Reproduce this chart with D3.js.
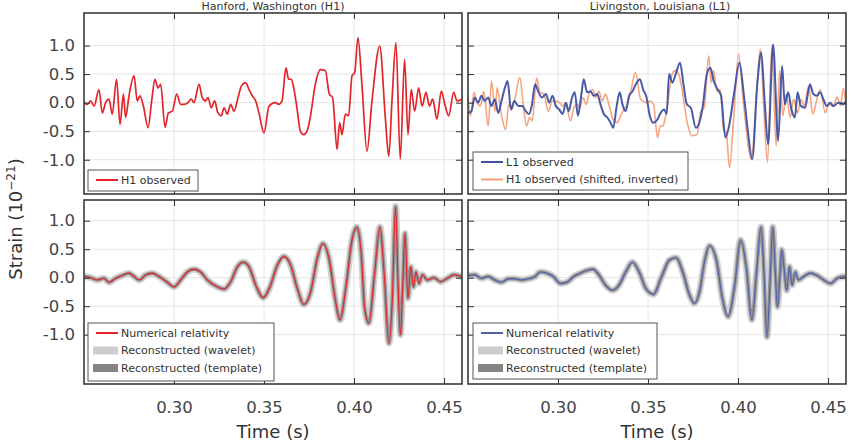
<!DOCTYPE html>
<html>
<head>
<meta charset="utf-8">
<script src="https://cdn.jsdelivr.net/npm/d3@7"></script>
<style>
body { margin: 0; background: #fff; }
text { font-family: "DejaVu Sans", sans-serif; }
</style>
</head>
<body>
<div id="chart"></div>
<script>
// axis settings
const xDomain = [0.25, 0.46];
const yDomainTop = [-1.6, 1.57];
const yDomainBottom = [-1.865, 1.363];
const xTicks = [0.30, 0.35, 0.40, 0.45];
const xTickLabels = ["0.30", "0.35", "0.40", "0.45"];
const yTicks = [-1.0, -0.5, 0.0, 0.5, 1.0];
const yTickLabels = ["-1.0", "-0.5", "0.0", "0.5", "1.0"];
const titles = ["Hanford, Washington (H1)", "Livingston, Louisiana (L1)"];

// H1 observed (time s, strain 1e-21)
const h1ObsT = [0.2500,0.2519,0.2537,0.2556,0.2583,0.2602,0.2620,0.2639,0.2657,0.2681,
  0.2700,0.2719,0.2731,0.2750,0.2778,0.2796,0.2811,0.2830,0.2856,0.2876,
  0.2894,0.2911,0.2926,0.2950,0.2969,0.2991,0.3015,0.3037,0.3056,0.3078,
  0.3096,0.3111,0.3139,0.3157,0.3176,0.3189,0.3207,0.3226,0.3244,0.3263,
  0.3278,0.3296,0.3315,0.3333,0.3356,0.3374,0.3398,0.3417,0.3435,0.3454,
  0.3472,0.3500,0.3528,0.3563,0.3581,0.3600,0.3622,0.3637,0.3652,0.3665,
  0.3683,0.3702,0.3720,0.3739,0.3757,0.3785,0.3813,0.3841,0.3863,0.3881,
  0.3906,0.3920,0.3933,0.3952,0.3970,0.3989,0.4004,0.4022,0.4044,0.4072,
  0.4100,0.4143,0.4174,0.4193,0.4211,0.4233,0.4257,0.4281,0.4300,0.4318,
  0.4337,0.4359,0.4378,0.4400,0.4419,0.4437,0.4461,0.4485,0.4507,0.4526,
  0.4554,0.4572,0.4600];
const h1ObsV = [0.00,-0.03,0.03,-0.06,0.23,-0.18,0.00,0.06,-0.20,0.41,
  -0.38,0.15,-0.26,0.12,0.47,0.03,0.12,-0.06,-0.44,0.03,
  0.41,0.26,0.32,-0.43,-0.18,-0.15,0.15,-0.03,-0.03,0.00,
  0.06,0.00,0.32,0.09,0.03,0.09,-0.09,0.03,-0.18,-0.23,
  -0.09,-0.20,-0.03,-0.15,0.09,0.29,0.35,0.23,0.12,0.03,
  -0.18,-0.53,-0.06,0.00,-0.03,0.03,0.61,0.41,0.41,0.26,
  -0.09,-0.50,-0.56,-0.50,-0.26,0.32,0.58,0.56,0.15,0.09,
  -0.82,-0.35,-0.56,-0.20,-0.23,0.47,0.53,1.14,0.32,-0.85,
  0.03,0.99,-0.26,-0.94,0.03,1.05,-0.99,0.76,-0.56,0.23,
  -0.15,0.26,-0.06,0.18,-0.06,0.06,-0.29,0.20,-0.06,-0.23,
  0.18,0.03,0.06];

// L1 observed
const l1ObsT = [0.2500,0.2519,0.2537,0.2556,0.2575,0.2593,0.2612,0.2630,0.2649,0.2668,
  0.2686,0.2705,0.2720,0.2739,0.2757,0.2780,0.2802,0.2821,0.2839,0.2854,
  0.2873,0.2892,0.2910,0.2933,0.2951,0.2970,0.2988,0.3007,0.3026,0.3044,
  0.3059,0.3078,0.3093,0.3111,0.3130,0.3143,0.3162,0.3180,0.3199,0.3218,
  0.3236,0.3255,0.3274,0.3292,0.3307,0.3326,0.3343,0.3358,0.3376,0.3395,
  0.3414,0.3432,0.3455,0.3473,0.3492,0.3510,0.3529,
  0.3552,0.3570,0.3590,0.3604,0.3617,0.3635,0.3654,0.3678,0.3697,0.3716,
  0.3738,0.3766,0.3785,0.3803,0.3827,0.3846,0.3865,0.3887,0.3906,0.3930,
  0.3952,0.3980,0.4008,0.4032,0.4055,0.4079,0.4107,0.4129,0.4148,0.4167,
  0.4195,0.4223,0.4245,0.4260,0.4279,0.4297,0.4316,0.4331,0.4349,0.4372,
  0.4400,0.4418,0.4437,0.4456,0.4474,0.4493,0.4512,0.4530,0.4558,0.4586,0.4600];
const l1ObsV = [-0.18,-0.15,0.09,0.00,0.12,0.03,0.09,-0.06,0.06,-0.18,
  0.03,0.26,0.38,-0.12,0.03,-0.06,-0.06,-0.15,-0.20,-0.06,
  0.32,0.18,0.09,0.15,0.00,0.12,-0.06,-0.12,-0.20,0.00,
  -0.15,0.09,0.18,-0.23,0.15,0.41,0.18,0.20,0.12,0.15,
  -0.03,-0.20,-0.26,-0.35,-0.44,-0.06,0.18,-0.03,-0.15,0.12,
  0.20,0.32,0.41,0.23,0.09,-0.23,-0.35,
  -0.30,-0.18,-0.12,-0.20,0.50,0.35,0.50,0.70,0.32,-0.03,
  -0.09,-0.44,-0.35,-0.09,0.50,0.61,0.38,0.23,0.12,-0.61,
  -0.38,0.20,0.70,0.15,-0.50,-0.99,0.32,0.88,0.03,-0.73,
  1.02,-0.67,0.64,-0.03,0.18,-0.12,-0.26,0.18,-0.06,-0.09,
  0.32,0.15,0.12,0.18,0.06,-0.06,0.00,-0.06,0.00,-0.03,0.03];

// H1 observed, shifted and inverted (as drawn in the L1 panel)
const h1ShiftT = [0.2500,0.2514,0.2533,0.2551,0.2570,0.2588,0.2612,0.2631,0.2650,0.2662,0.2681,
  0.2709,0.2727,0.2742,0.2761,0.2787,0.2807,0.2825,0.2842,0.2857,0.2881,
  0.2900,0.2922,0.2946,0.2968,0.2987,0.3009,0.3027,0.3042,0.3070,0.3088,
  0.3107,0.3120,0.3138,0.3157,0.3175,0.3194,0.3209,0.3227,0.3246,0.3264,
  0.3287,0.3305,0.3329,0.3348,0.3366,0.3385,0.3403,0.3431,0.3459,0.3494,
  0.3512,0.3531,0.3553,0.3568,0.3583,0.3596,0.3614,0.3633,0.3651,0.3670,
  0.3688,0.3716,0.3744,0.3772,0.3794,0.3812,0.3837,0.3851,0.3864,0.3883,
  0.3901,0.3920,0.3935,0.3953,0.3975,0.4003,0.4031,0.4074,0.4105,0.4124,
  0.4142,0.4164,0.4188,0.4212,0.4231,0.4249,0.4268,0.4290,0.4309,0.4331,
  0.4350,0.4368,0.4392,0.4416,0.4438,0.4457,0.4485,0.4503,0.4531,0.4550,
  0.4570,0.4585,0.4600];
const h1ShiftV = [0.10,-0.23,0.18,0.00,-0.06,0.20,-0.41,0.38,-0.15,0.26,-0.12,
  -0.47,-0.03,-0.12,0.06,0.44,-0.03,-0.41,-0.26,-0.32,0.43,
  0.18,0.15,-0.15,0.03,0.03,0.00,-0.06,0.00,-0.32,-0.09,
  -0.03,-0.09,0.09,-0.03,0.18,0.23,0.09,0.20,0.03,0.15,
  -0.09,-0.29,-0.35,-0.23,-0.12,-0.03,0.18,0.53,0.06,0.00,
  0.03,-0.03,-0.61,-0.41,-0.41,-0.26,0.09,0.50,0.56,0.50,
  0.26,-0.32,-0.58,-0.56,-0.15,-0.09,0.82,0.35,0.56,0.20,
  0.23,-0.47,-0.53,-1.14,-0.32,0.85,-0.03,-0.99,0.26,0.94,
  -0.03,-1.05,0.99,-0.76,0.56,-0.23,0.15,-0.26,0.06,-0.18,
  0.06,-0.06,0.29,-0.20,0.06,0.23,-0.18,-0.03,-0.06,0.10,
  -0.05,0.25,-0.05];

// numerical relativity waveform, H1
const nrH1T = [0.2500,0.2537,0.2574,0.2611,0.2639,0.2676,0.2713,0.2750,0.2778,0.2806,
  0.2843,0.2880,0.2917,0.2959,0.3000,0.3037,0.3074,0.3111,0.3148,0.3185,
  0.3241,0.3278,0.3315,0.3352,0.3385,0.3417,0.3454,0.3496,0.3533,0.3574,
  0.3611,0.3648,0.3685,0.3722,0.3759,0.3796,0.3828,0.3861,0.3898,0.3922,
  0.3954,0.3987,0.4015,0.4041,0.4058,0.4082,0.4115,0.4144,0.4167,0.4194,
  0.4213,0.4231,0.4245,0.4258,0.4270,0.4283,0.4300,0.4315,0.4330,0.4344,
  0.4361,0.4380,0.4407,0.4444,0.4481,0.4519,0.4556,0.4600];
const nrH1V = [0.02,0.00,-0.04,-0.01,-0.08,-0.01,0.04,0.08,0.02,-0.04,
  0.05,0.08,0.02,-0.07,-0.16,-0.04,0.10,0.15,0.10,-0.04,
  -0.16,-0.20,-0.07,0.19,0.27,0.19,-0.13,-0.35,-0.16,0.22,
  0.37,0.22,-0.19,-0.47,-0.25,0.34,0.60,0.34,-0.42,-0.74,
  -0.19,0.63,0.89,0.40,-0.50,-0.80,0.10,0.89,0.10,-1.15,
  -0.36,1.25,-0.13,-1.00,-0.20,0.78,-0.36,0.19,-0.16,0.10,
  -0.10,0.05,-0.04,0.00,-0.07,-0.01,0.05,0.02];

// numerical relativity waveform, L1
const nrL1T = [0.2500,0.2537,0.2575,0.2612,0.2649,0.2686,0.2724,0.2761,0.2798,0.2836,
  0.2873,0.2901,0.2938,0.2975,0.3013,0.3050,0.3087,0.3125,0.3162,0.3194,
  0.3227,0.3264,0.3302,0.3339,0.3376,0.3414,0.3451,0.3488,0.3531,0.3572,
  0.3619,0.3656,0.3693,0.3730,0.3758,0.3786,0.3814,0.3842,0.3880,0.3913,
  0.3945,0.3982,0.4014,0.4047,0.4077,0.4103,0.4128,0.4144,0.4161,0.4178,
  0.4193,0.4208,0.4219,0.4234,0.4243,0.4256,0.4271,0.4286,0.4301,0.4318,
  0.4336,0.4364,0.4402,0.4439,0.4476,0.4513,0.4551,0.4588,0.4600];
const nrL1V = [0.04,0.05,-0.01,0.02,-0.04,-0.08,-0.02,-0.02,-0.04,-0.02,
  0.02,0.10,0.08,0.02,-0.10,-0.08,0.02,0.08,0.13,0.15,
  0.05,-0.13,-0.22,-0.13,0.10,0.27,0.10,-0.19,-0.29,-0.01,
  0.31,0.35,0.10,-0.30,-0.45,-0.25,0.28,0.56,0.31,-0.36,
  -0.68,-0.13,0.66,0.16,-0.74,0.10,0.89,0.10,-1.04,-0.07,
  0.89,0.05,-0.51,0.10,0.49,0.16,-0.22,0.19,-0.13,0.10,
  -0.04,0.02,0.08,0.04,-0.04,-0.10,-0.01,0.02,0.00];

const zip = (t, v) => t.map((d, i) => ({t: d, v: v[i]}));

const red = "#e3242b", blue = "#3f52a3", orange = "#f3a07a", nrBlue = "#5262ab";
const waveletStyle = {color: "#cdcdcd", width: 7, opacity: 0.85};
const templateStyle = {color: "#858585", width: 3.5, opacity: 0.8};

const panels = [
  {x: 84, y: 13, w: 378, h: 181, yDom: yDomainTop, xLab: false, yLab: true,
   series: [{data: zip(h1ObsT, h1ObsV), color: red, width: 1.7, opacity: 1}],
   legend: {x: 4, y: 157, w: 110, h: 21, row0: 10, items: [
     {label: "H1 observed", kind: "line", color: red}]}},
  {x: 468, y: 13, w: 378, h: 181, yDom: yDomainTop, xLab: false, yLab: false,
   series: [{data: zip(h1ShiftT, h1ShiftV), color: orange, width: 1.6, opacity: 0.95},
            {data: zip(l1ObsT, l1ObsV), color: blue, width: 2, opacity: 0.95}],
   legend: {x: 5, y: 139, w: 215, h: 38, row0: 10, items: [
     {label: "L1 observed", kind: "line", color: blue},
     {label: "H1 observed (shifted, inverted)", kind: "line", color: orange}]}},
  {x: 84, y: 200, w: 378, h: 184, yDom: yDomainBottom, xLab: true, yLab: true,
   series: [{data: zip(nrH1T, nrH1V), ...waveletStyle},
            {data: zip(nrH1T, nrH1V), ...templateStyle},
            {data: zip(nrH1T, nrH1V), color: red, width: 1.1, opacity: 1}],
   legend: {x: 4, y: 123, w: 186, h: 58, row0: 10, items: [
     {label: "Numerical relativity", kind: "line", color: red},
     {label: "Reconstructed (wavelet)", kind: "band", color: waveletStyle.color},
     {label: "Reconstructed (template)", kind: "band", color: templateStyle.color}]}},
  {x: 468, y: 200, w: 378, h: 184, yDom: yDomainBottom, xLab: true, yLab: false,
   series: [{data: zip(nrL1T, nrL1V), ...waveletStyle},
            {data: zip(nrL1T, nrL1V), ...templateStyle},
            {data: zip(nrL1T, nrL1V), color: nrBlue, width: 1.1, opacity: 1}],
   legend: {x: 5, y: 123, w: 184, h: 56, row0: 10, items: [
     {label: "Numerical relativity", kind: "line", color: nrBlue},
     {label: "Reconstructed (wavelet)", kind: "band", color: waveletStyle.color},
     {label: "Reconstructed (template)", kind: "band", color: templateStyle.color}]}}
];

const svg = d3.select("#chart").append("svg")
  .attr("width", 851)
  .attr("height", 441);

// panel titles above the top row
svg.selectAll(".title")
  .data(titles)
  .join("text")
  .attr("class", "title")
  .attr("x", (d, i) => i === 0 ? 273 : 660)
  .attr("y", 10)
  .attr("text-anchor", "middle")
  .attr("font-size", 11)
  .attr("fill", "#333")
  .text(d => d);

panels.forEach((p, pi) => {
  const g = svg.append("g").attr("transform", `translate(${p.x},${p.y})`);
  const x = d3.scaleLinear().domain(xDomain).range([0, p.w]);
  const y = d3.scaleLinear().domain(p.yDom).range([p.h, 0]);

  g.append("rect").attr("width", p.w).attr("height", p.h).attr("fill", "#fff");

  // grid
  g.selectAll(".vgrid").data(xTicks).join("line")
    .attr("x1", d => x(d)).attr("x2", d => x(d))
    .attr("y1", 0).attr("y2", p.h)
    .attr("stroke", "#e4e4e4");
  g.selectAll(".hgrid").data(yTicks).join("line")
    .attr("y1", d => y(d)).attr("y2", d => y(d))
    .attr("x1", 0).attr("x2", p.w)
    .attr("stroke", "#e4e4e4");

  g.append("clipPath").attr("id", "clip" + pi)
    .append("rect").attr("width", p.w).attr("height", p.h);

  const line = d3.line()
    .x(d => x(d.t))
    .y(d => y(d.v))
    .curve(d3.curveMonotoneX);

  g.append("g").attr("clip-path", `url(#clip${pi})`)
    .selectAll("path")
    .data(p.series)
    .join("path")
    .attr("d", d => line(d.data))
    .attr("fill", "none")
    .attr("stroke", d => d.color)
    .attr("stroke-width", d => d.width)
    .attr("stroke-opacity", d => d.opacity)
    .attr("stroke-linejoin", "round");

  // inward ticks on all sides
  const styleAxis = ax => {
    ax.select(".domain").remove();
    ax.selectAll(".tick line").attr("stroke", "#333");
    ax.selectAll(".tick text").attr("fill", "#444").attr("font-size", 16.5)
      .attr("font-family", "DejaVu Sans, sans-serif");
  };
  g.append("g")
    .call(d3.axisLeft(y).tickValues(yTicks).tickSize(-6).tickPadding(9)
      .tickFormat((d, i) => p.yLab ? yTickLabels[i] : ""))
    .call(styleAxis);
  g.append("g").attr("transform", `translate(${p.w},0)`)
    .call(d3.axisRight(y).tickValues(yTicks).tickSize(-6).tickFormat(""))
    .call(styleAxis);
  g.append("g")
    .call(d3.axisTop(x).tickValues(xTicks).tickSize(-6).tickFormat(""))
    .call(styleAxis);
  g.append("g").attr("transform", `translate(0,${p.h})`)
    .call(d3.axisBottom(x).tickValues(xTicks).tickSize(-6).tickPadding(17)
      .tickFormat((d, i) => p.xLab ? xTickLabels[i] : ""))
    .call(styleAxis);

  g.append("rect").attr("width", p.w).attr("height", p.h)
    .attr("fill", "none").attr("stroke", "#3a3a3a").attr("stroke-width", 1.6);

  // legend
  const lg = g.append("g").attr("transform", `translate(${p.legend.x},${p.legend.y})`);
  lg.append("rect").attr("width", p.legend.w).attr("height", p.legend.h)
    .attr("fill", "#fff").attr("stroke", "#555").attr("stroke-width", 1);
  const rows = lg.selectAll(".row").data(p.legend.items).join("g")
    .attr("transform", (d, i) => `translate(0,${p.legend.row0 + i * 17.5})`);
  rows.filter(d => d.kind === "line").append("line")
    .attr("x1", 8).attr("x2", 30).attr("stroke", d => d.color).attr("stroke-width", 2);
  rows.filter(d => d.kind === "band").append("rect")
    .attr("x", 5).attr("y", -4).attr("width", 25).attr("height", 8)
    .attr("fill", d => d.color);
  rows.append("text")
    .attr("x", 33).attr("dy", "0.35em")
    .attr("font-size", 11).attr("fill", "#333")
    .text(d => d.label);
});

// axis labels
svg.selectAll(".xlabel").data([273, 657]).join("text")
  .attr("x", d => d).attr("y", 438)
  .attr("text-anchor", "middle").attr("font-size", 18).attr("fill", "#333")
  .text("Time (s)");

const ylab = svg.append("text")
  .attr("transform", "translate(22,219) rotate(-90)")
  .attr("text-anchor", "middle").attr("font-size", 18).attr("fill", "#333");
ylab.append("tspan").text("Strain (10");
ylab.append("tspan").attr("font-size", 12).attr("dy", -7).text("\u221221");
ylab.append("tspan").attr("dy", 7).text(")");
</script>
</body>
</html>
